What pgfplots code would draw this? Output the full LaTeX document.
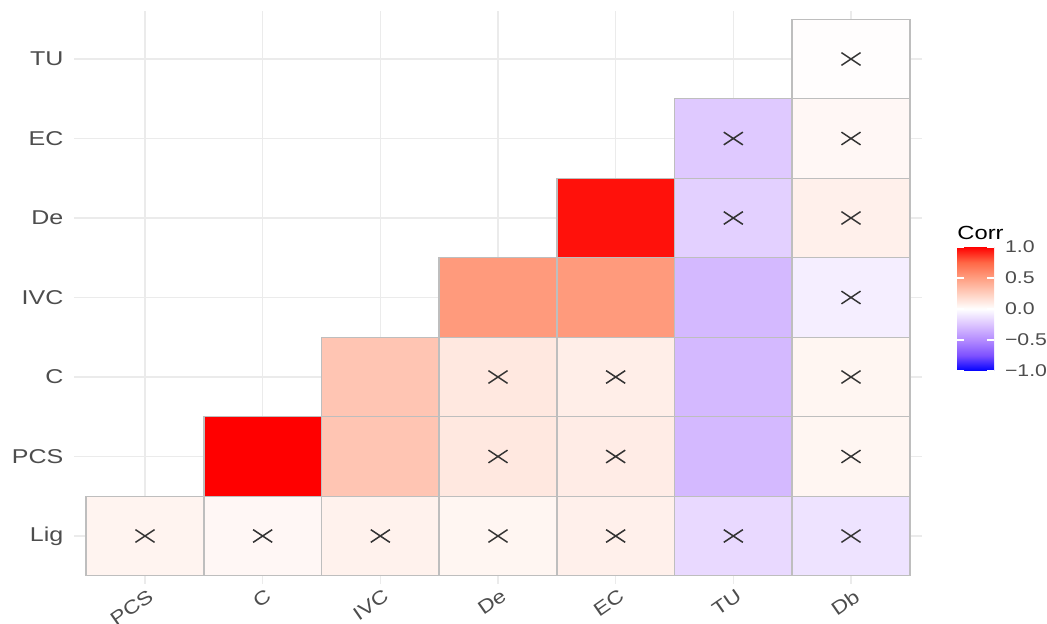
\documentclass[border=0pt]{standalone}
\usepackage{pgfplots}
\pgfplotsset{compat=1.18}
\usepackage{fontspec}
\setmainfont{Liberation Sans}[FakeStretch=1.25]
\newfontfamily\xlabfont{Liberation Sans}[FakeStretch=1.2]

\definecolor{gridgrey}{RGB}{235,235,235}
\definecolor{labgrey}{RGB}{77,77,77}
\definecolor{cellline}{RGB}{190,190,190}

% x: 1 PCS, 2 C, 3 IVC, 4 De, 5 EC, 6 TU, 7 Db
% y: 1 Lig, 2 PCS, 3 C, 4 IVC, 5 De, 6 EC, 7 TU
\pgfplotstableread{
x y r
1 1 0.06
2 1 0.04
3 1 0.07
4 1 0.05
5 1 0.08
6 1 -0.16
7 1 -0.12
2 2 1.00
3 2 0.30
4 2 0.12
5 2 0.10
6 2 -0.30
7 2 0.05
3 3 0.30
4 3 0.12
5 3 0.09
6 3 -0.30
7 3 0.05
4 4 0.52
5 4 0.52
6 4 -0.30
7 4 -0.07
5 5 0.96
6 5 -0.20
7 5 0.08
6 6 -0.23
7 6 0.04
7 7 0.01
}\corrtab

\begin{document}
\begin{tikzpicture}
\begin{axis}[
  scale only axis,
  width=423.6pt, height=286.2pt,
  xmin=0.4, xmax=7.6, ymin=0.4, ymax=7.6,
  xtick={1,...,7}, ytick={1,...,7},
  xticklabels={PCS,C,IVC,De,EC,TU,Db},
  yticklabels={Lig,PCS,C,IVC,De,EC,TU},
  axis line style={draw=none},
  major tick length=0pt,
  grid=major,
  major grid style={draw=gridgrey, line width=0.6pt},
  tick label style={font=\fontsize{10}{12}\selectfont, text=labgrey},
  xticklabel style={font=\xlabfont\fontsize{9.5}{11}\selectfont,
    rotate=35, anchor=north east, xshift=3pt, yshift=1pt},
  yticklabel style={xshift=-2pt},
  colormap={corr}{rgb255=(0,0,255) rgb255=(126,81,255) rgb255=(179,139,255)
    rgb255=(220,196,255) rgb255=(255,255,255) rgb255=(255,207,191)
    rgb255=(255,158,129) rgb255=(255,104,70) rgb255=(255,0,0)},
  point meta min=-1, point meta max=1,
  colorbar,
  colorbar shift/.style={},
  colorbar/width=18.5pt,
  colorbar style={
    at={(parent axis.south west)}, anchor=south west,
    xshift=441.3pt, yshift=106.35pt,
    scale only axis, width=18.5pt, height=62pt,
    xmin=0, xmax=1, grid=none,
    ytick={-1,-0.5,0,0.5,1},
    yticklabels={−1.0,−0.5,0.0,0.5,1.0},
    yticklabel style={font=\fontsize{8.5}{10}\selectfont, text=labgrey, xshift=2pt},
    axis line style={draw=none},
    major tick length=3.5pt, tick align=inside,
    ytick style={draw=white, line width=0.6pt},
    title=Corr,
    title style={at={(0,1)}, anchor=south west, inner sep=0pt, yshift=-2.5pt,
      font=\fontsize{9.5}{11}\selectfont},
  },
]
\addplot[scatter, only marks, scatter src=explicit, mark=square*,
  mark size=19.875pt,
  mark options={xscale=1.4805, line width=0.7pt},
  scatter/use mapped color={draw=cellline, fill=mapped color}]
  table[x=x, y=y, meta=r] {\corrtab};
% cells whose correlation is not significant
\addplot[only marks, mark=x, mark size=4.5pt,
  mark options={xscale=1.5, draw=black!80, line width=0.75pt}]
  coordinates {
  (1,1) (2,1) (3,1) (4,1) (5,1) (6,1) (7,1)
  (4,2) (5,2) (7,2)
  (4,3) (5,3) (7,3)
  (7,4)
  (6,5) (7,5)
  (6,6) (7,6)
  (7,7)};
\end{axis}
\pgfresetboundingbox
\path[use as bounding box] (-37.2pt,-20.15pt) rectangle (486.3pt,291.85pt);
\end{tikzpicture}
\end{document}
